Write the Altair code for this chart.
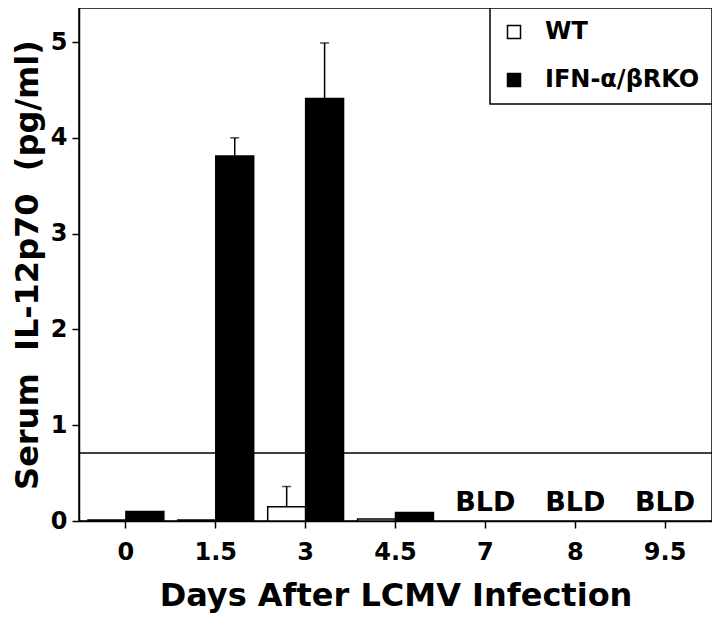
import altair as alt
import pandas as pd

days = ["0", "1.5", "3", "4.5", "7", "8", "9.5"]
groups = ["WT", "IFN-α/βRKO"]
wt_vals = [0.01, 0.01, 0.15, 0.02, None, None, None]
ko_vals = [0.10, 3.81, 4.41, 0.09, None, None, None]
wt_err = [None, None, 0.21, None, None, None, None]
ko_err = [None, 0.19, 0.58, None, None, None, None]
limit_value = 0.71
bld_days = ["7", "8", "9.5"]
bld_y = 0.19

rows = []
err_rows = []
for i, d in enumerate(days):
    for g, vals, errs in ((groups[0], wt_vals, wt_err), (groups[1], ko_vals, ko_err)):
        if vals[i] is not None:
            rows.append({"day": d, "group": g, "value": vals[i]})
            if errs[i] is not None:
                err_rows.append({"day": d, "group": g, "lo": vals[i], "hi": vals[i] + errs[i]})
bars_df = pd.DataFrame(rows)
err_df = pd.DataFrame(err_rows)
bld_df = pd.DataFrame({"day": bld_days, "y": [bld_y] * len(bld_days), "t": ["BLD"] * len(bld_days)})
lim_df = pd.DataFrame({"y": [limit_value]})

FONT = "DejaVu Sans"

x_enc = alt.X("day:N", sort=days,
              scale=alt.Scale(domain=days, paddingInner=0.156, paddingOuter=0.1),
              axis=alt.Axis(title="Days After LCMV Infection", labelAngle=0, tickSize=7,
                            labelPadding=12, titlePadding=16))
y_scale = alt.Scale(domain=[0, 5.355], nice=False, zero=True)
y_axis = alt.Axis(title="Serum\u00a0\u00a0IL-12p70\u00a0\u00a0(pg/ml)", values=[0, 1, 2, 3, 4, 5],
                  format="d", tickSize=7, labelPadding=5, titlePadding=6, grid=False)
xoff = alt.XOffset("group:N", sort=groups, scale=alt.Scale(domain=groups, paddingInner=0))

bars = alt.Chart(bars_df).mark_bar(stroke="black", strokeWidth=1.5).encode(
    x=x_enc,
    xOffset=xoff,
    y=alt.Y("value:Q", scale=y_scale, axis=y_axis),
    color=alt.Color("group:N", sort=groups,
                    scale=alt.Scale(domain=groups, range=["white", "black"]),
                    legend=alt.Legend(title=None, orient="top-right", offset=0)),
)

err_rule = alt.Chart(err_df).mark_rule(color="black", strokeWidth=1.5).encode(
    x=alt.X("day:N", sort=days), xOffset=xoff, y="lo:Q", y2="hi:Q")
err_cap = alt.Chart(err_df).mark_tick(color="black", thickness=1.5, size=9, orient="horizontal").encode(
    x=alt.X("day:N", sort=days), xOffset=xoff, y="hi:Q")

limit = alt.Chart(lim_df).mark_rule(color="black", strokeWidth=1.5).encode(y="y:Q")

bld = alt.Chart(bld_df).mark_text(font=FONT, fontWeight="bold", fontSize=27,
                                  baseline="middle", align="center", color="black").encode(
    x=alt.X("day:N", sort=days), y="y:Q", text="t:N")

chart = alt.layer(bars, limit, err_rule, err_cap, bld).properties(
    width=633, height=513,
    autosize=alt.AutoSizeParams(type="none"),
    padding={"left": 71, "top": 0, "right": 0, "bottom": 105},
).configure_view(stroke="black", strokeWidth=1.5).configure_axis(
    domainColor="black", domainWidth=1.5, tickColor="black", tickWidth=1.5,
    labelFont=FONT, labelFontWeight="bold", labelFontSize=24, labelColor="black",
    titleFont=FONT, titleFontWeight="bold", titleFontSize=32, titleColor="black",
).configure_legend(
    labelFont=FONT, labelFontWeight="bold", labelFontSize=24, labelColor="black",
    strokeColor="black", strokeWidth=1.5, fillColor="white", padding=12,
    symbolType="square", symbolSize=169, symbolStrokeColor="black", symbolStrokeWidth=1.5,
    symbolOffset=0, labelOffset=19, rowPadding=24, symbolOpacity=1,
)

chart.save("out.html", embed_options={"renderer": "svg", "actions": False})
